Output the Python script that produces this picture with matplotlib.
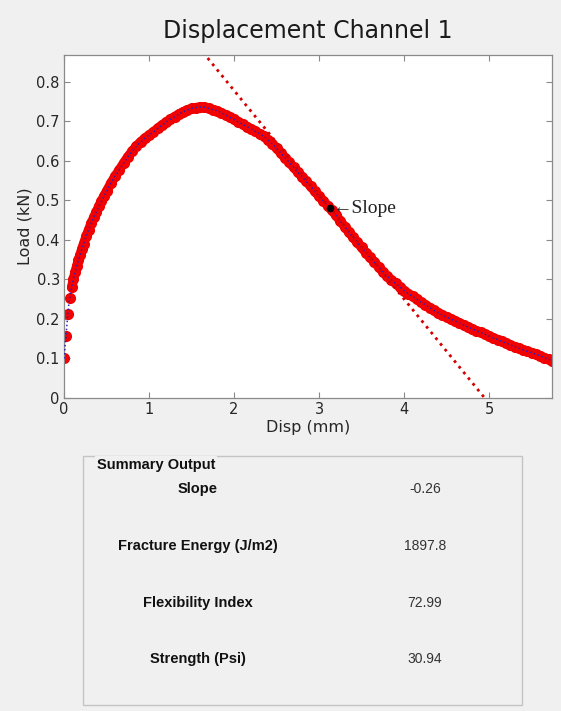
import matplotlib
matplotlib.use("Agg")
import matplotlib.pyplot as plt
from matplotlib.patches import Rectangle

# Load-displacement record
disp_mm = [0.000, 0.024, 0.045, 0.065, 0.090, 0.11, 0.13, 0.15, 0.17, 0.19,
           0.21, 0.23, 0.26, 0.29, 0.32, 0.35, 0.38, 0.41, 0.44, 0.47,
           0.50, 0.55, 0.60, 0.65, 0.70, 0.75,
           0.80, 0.85, 0.90, 0.95, 1.00, 1.05, 1.10, 1.15, 1.20, 1.25,
           1.30, 1.35, 1.40, 1.45, 1.50, 1.55, 1.60, 1.65, 1.70, 1.75,
           1.80, 1.85, 1.90, 1.95, 2.00, 2.05, 2.10, 2.15, 2.20, 2.25,
           2.30, 2.35, 2.40, 2.45, 2.50, 2.55, 2.60, 2.65, 2.70, 2.75,
           2.80, 2.85, 2.90, 2.95, 3.00, 3.05, 3.10, 3.15, 3.20, 3.25,
           3.30, 3.35, 3.40, 3.45, 3.50, 3.55, 3.60, 3.65, 3.70, 3.75,
           3.80, 3.85, 3.90, 3.95, 4.00, 4.05, 4.10, 4.15, 4.20, 4.25,
           4.30, 4.35, 4.40, 4.45, 4.50, 4.55, 4.60, 4.65, 4.70, 4.75,
           4.80, 4.85, 4.90, 4.95, 5.00, 5.05, 5.10, 5.15, 5.20, 5.25,
           5.30, 5.35, 5.40, 5.45, 5.50, 5.55, 5.60, 5.65, 5.70, 5.74]
load_kn = [0.100, 0.158, 0.213, 0.253, 0.280, 0.300, 0.318, 0.334, 0.349, 0.363,
           0.377, 0.390, 0.409, 0.426, 0.442, 0.457, 0.471, 0.485, 0.498, 0.511,
           0.523, 0.543, 0.561, 0.577, 0.594, 0.610,
           0.624, 0.637, 0.648, 0.657, 0.665, 0.673, 0.682, 0.690, 0.698, 0.705,
           0.712, 0.718, 0.724, 0.729, 0.733, 0.735, 0.736, 0.736, 0.733, 0.730,
           0.727, 0.722, 0.716, 0.710, 0.705, 0.699, 0.693, 0.687, 0.681, 0.675,
           0.669, 0.662, 0.653, 0.643, 0.632, 0.620, 0.608, 0.596, 0.584, 0.572,
           0.560, 0.548, 0.536, 0.523, 0.511, 0.499, 0.487, 0.475, 0.462, 0.448,
           0.434, 0.420, 0.407, 0.394, 0.381, 0.368, 0.356, 0.344, 0.332, 0.320,
           0.308, 0.299, 0.290, 0.281, 0.272, 0.264, 0.257, 0.250, 0.243, 0.236,
           0.229, 0.222, 0.216, 0.210, 0.205, 0.200, 0.195, 0.190, 0.185, 0.180,
           0.175, 0.170, 0.166, 0.161, 0.157, 0.152, 0.148, 0.143, 0.139, 0.134,
           0.130, 0.126, 0.122, 0.118, 0.115, 0.111, 0.107, 0.102, 0.098, 0.094]

# Post-peak slope point and tangent slope (kN/mm)
slope_x = 3.13
slope_y = 0.480
slope_val = -0.264

x_ticks = [0, 1, 2, 3, 4, 5]
y_ticks = [0, 0.1, 0.2, 0.3, 0.4, 0.5, 0.6, 0.7, 0.8]

summary_labels = ["Slope", "Fracture Energy (J/m2)", "Flexibility Index", "Strength (Psi)"]
summary_values = [f"{slope_val:.2f}", "1897.8", "72.99", "30.94"]

BG = "#f0f0f0"
Y_TOP = 0.868
fig = plt.figure(figsize=(5.61, 7.11), dpi=100, facecolor=BG)
ax = fig.add_axes([64 / 561, 1 - 398 / 711, 488 / 561, 343 / 711])
ax.set_facecolor("white")

# Red sample markers: the dense part reads as a solid band
ax.plot(disp_mm[4:], load_kn[4:], linestyle="-", color="#f20000",
        linewidth=6.8, solid_capstyle="round", solid_joinstyle="round", zorder=2)
ax.plot(disp_mm, load_kn, linestyle="none", marker="o", markersize=7,
        markerfacecolor="#f40000", markeredgecolor="#f00000", zorder=2)
ax.plot(disp_mm, load_kn, linestyle=":", color="#2f1fb8", linewidth=1.1,
        zorder=3)

# Tangent line through the slope point, from the top of the axes to zero load
x_zero = slope_x - slope_y / slope_val
x_start = slope_x + (Y_TOP + 0.05 - slope_y) / slope_val
ax.plot([x_start, x_zero],
        [slope_y + slope_val * (x_start - slope_x), 0.0],
        linestyle=":", color="#d40000", linewidth=2.0, zorder=4)
ax.plot([slope_x], [slope_y], marker="o", markersize=4.5, color="black",
        linestyle="none", zorder=5)
ax.text(slope_x + 0.02, slope_y, "\u2190Slope", ha="left", va="center",
        fontsize=14, color="#222222",
        family=["Liberation Serif", "DejaVu Serif"], zorder=6)

ax.set_xlim(0, disp_mm[-1])
ax.set_ylim(0, Y_TOP)
ax.set_xticks(x_ticks)
ax.set_xticklabels([str(t) for t in x_ticks])
ax.set_yticks(y_ticks)
ax.set_yticklabels(["0"] + [f"{t:.1f}" for t in y_ticks[1:]])
ax.tick_params(direction="in", length=4, width=0.8, colors="#8a8a8a",
               labelcolor="#262626", labelsize=10.5, top=True, right=True, pad=3)
for sp in ax.spines.values():
    sp.set_color("#8a8a8a")
    sp.set_linewidth(0.9)

ax.set_xlabel("Disp (mm)", fontsize=11.5, color="#262626", labelpad=2)
ax.set_ylabel("Load (kN)", fontsize=11.5, color="#262626", labelpad=3)
ax.set_title("Displacement Channel 1", fontsize=17, color="#1a1a1a", pad=12)

# Summary panel
box = Rectangle((83 / 561, 1 - 705 / 711), 439 / 561, 249 / 711,
                transform=fig.transFigure, facecolor="none",
                edgecolor="#c4c4c4", linewidth=1.0)
fig.add_artist(box)
fig.text(97 / 561, 1 - 465 / 711, "Summary Output", ha="left", va="center",
         fontsize=10.5, fontweight="bold", color="#111111",
         family=["Liberation Sans", "DejaVu Sans"],
         bbox=dict(facecolor=BG, edgecolor="none", pad=1.5))

row_y = [489, 546, 603, 659]
for lab, val, yp in zip(summary_labels, summary_values, row_y):
    fig.text(198 / 561, 1 - yp / 711, lab, ha="center", va="center",
             fontsize=10.5, fontweight="bold", color="#111111",
             family=["Liberation Sans", "DejaVu Sans"])
    fig.text(425 / 561, 1 - yp / 711, val, ha="center", va="center",
             fontsize=10, color="#333333",
             family=["Liberation Sans", "DejaVu Sans"])

fig.savefig("out.png", dpi=100, facecolor=BG)
